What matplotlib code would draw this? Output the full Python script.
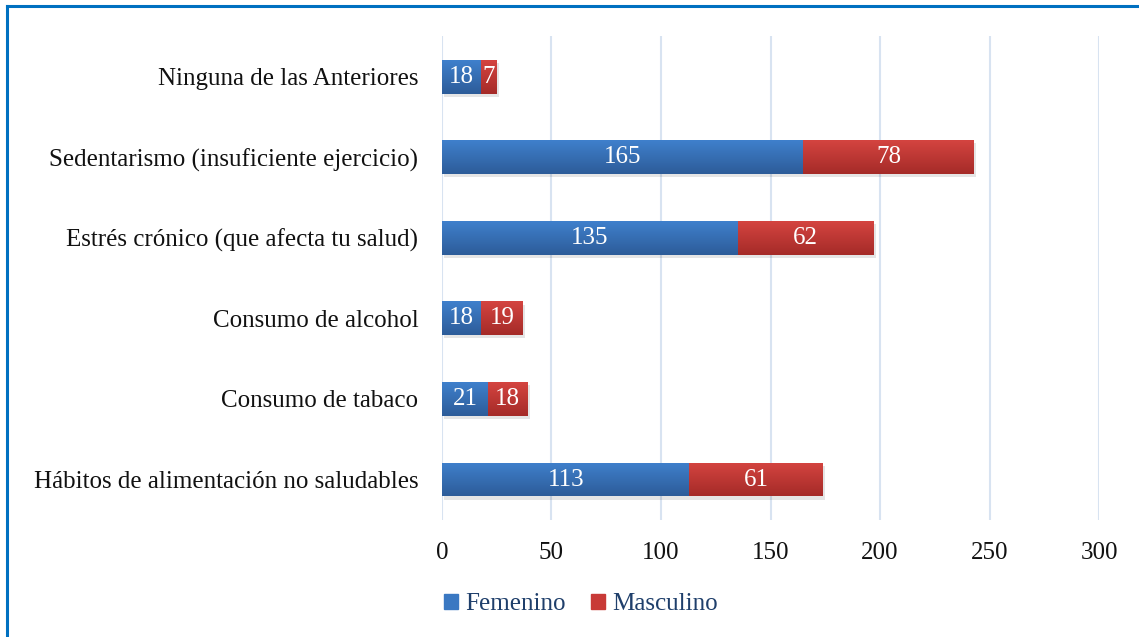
import numpy as np
import matplotlib.pyplot as plt
from matplotlib.patches import Rectangle
from matplotlib.lines import Line2D

categorias = ["Hábitos de alimentación no saludables", "Consumo de tabaco",
              "Consumo de alcohol", "Estrés crónico (que afecta tu salud)",
              "Sedentarismo (insuficiente ejercicio)", "Ninguna de las Anteriores"]
femenino = [113, 21, 18, 135, 165, 18]
masculino = [61, 18, 19, 62, 78, 7]
xticks = [0, 50, 100, 150, 200, 250, 300]

plt.rcParams['font.family'] = ['Liberation Serif', 'DejaVu Serif']

fig = plt.figure(figsize=(11.39, 6.37), dpi=100)
ax = fig.add_axes([0.388, 0.184, 0.577, 0.759])

y = np.arange(len(categorias))
h = 0.42

# gradient helper (top lighter, bottom darker like the Excel style)
def grad_bars(bars, top, bottom):
    grad = np.linspace(0, 1, 64).reshape(-1, 1)
    c0 = np.array(plt.matplotlib.colors.to_rgb(top))
    c1 = np.array(plt.matplotlib.colors.to_rgb(bottom))
    img = c0[None, None, :] * (1 - grad[:, :, None]) + c1[None, None, :] * grad[:, :, None]
    for b in bars:
        x0, y0 = b.get_x(), b.get_y()
        w, hh = b.get_width(), b.get_height()
        # shadow
        ax.add_patch(Rectangle((x0 + 1.0, y0 - 0.04), w, hh, color="#000000",
                               alpha=0.10, zorder=1.5, lw=0))
        b.set_facecolor("none")
        im = ax.imshow(img, extent=[x0, x0 + w, y0, y0 + hh], aspect="auto",
                       zorder=2, origin="upper")
        im.set_clip_path(b)

b1 = ax.barh(y, femenino, height=h, color="#3a78c2", lw=0, zorder=2)
b2 = ax.barh(y, masculino, left=femenino, height=h, color="#c83a37", lw=0, zorder=2)
grad_bars(b1, "#3f80cc", "#2d5c99")
grad_bars(b2, "#d44440", "#a52b28")

for i in range(len(categorias)):
    ax.text(femenino[i] / 2, y[i], str(femenino[i]), ha="center", va="center",
            color="white", fontsize=18, zorder=3)
    ax.text(femenino[i] + masculino[i] / 2, y[i], str(masculino[i]), ha="center",
            va="center", color="white", fontsize=18, zorder=3)

ax.set_xlim(0, 300)
ax.set_ylim(-0.5, len(categorias) - 0.5)
ax.set_xticks(xticks)
ax.set_yticks(y)
ax.set_yticklabels(categorias)
ax.tick_params(axis="both", length=0, labelsize=18, colors="#111111")
ax.tick_params(axis="y", pad=17)
ax.tick_params(axis="x", pad=16)
ax.grid(axis="x", color="#d8e3f1", lw=1.5, zorder=0)
ax.set_axisbelow(True)
for s in ax.spines.values():
    s.set_visible(False)

handles = [Rectangle((0, 0), 1, 1, color="#3a78c2"), Rectangle((0, 0), 1, 1, color="#c83a37")]
leg = fig.legend(handles, ["Femenino", "Masculino"], loc="center", bbox_to_anchor=(0.51, 0.052),
                 ncol=2, frameon=False, fontsize=18, handlelength=0.55, handleheight=0.55,
                 handletextpad=0.3, columnspacing=1.0)
for t in leg.get_texts():
    t.set_color("#1f3f6b")

# blue frame
fig.add_artist(Line2D([0.0065, 0.0065], [0, 0.99], color="#0070c0", lw=2.2,
                      transform=fig.transFigure))
fig.add_artist(Line2D([0.0065, 1], [0.99, 0.99], color="#0070c0", lw=2.2,
                      transform=fig.transFigure))

fig.savefig("out.png", dpi=100)
